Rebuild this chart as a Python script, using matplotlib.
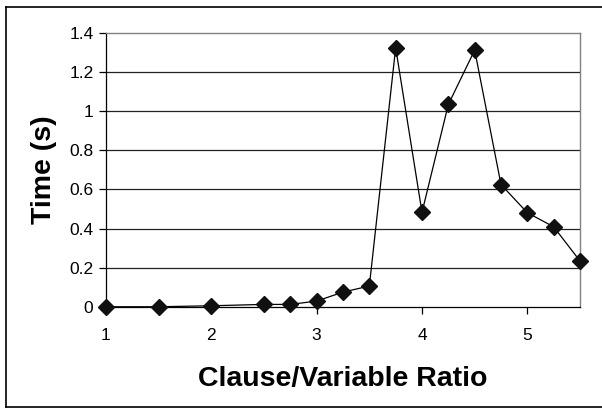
import matplotlib.pyplot as plt
from matplotlib.lines import Line2D

plt.rcParams['font.family'] = ['Liberation Sans', 'DejaVu Sans']

# clause/variable ratio vs solve time
ratios = [1, 1.5, 2, 2.5, 2.75, 3, 3.25, 3.5, 3.75, 4, 4.25, 4.5, 4.75, 5, 5.25, 5.5]
times = [0.0, 0.0, 0.005, 0.012, 0.012, 0.029, 0.075, 0.106, 1.325, 0.483,
         1.035, 1.313, 0.625, 0.481, 0.409, 0.234]
x_ticks = [1, 2, 3, 4, 5]
y_ticks = [0, 0.2, 0.4, 0.6, 0.8, 1, 1.2, 1.4]
y_labels = ['0', '0.2', '0.4', '0.6', '0.8', '1', '1.2', '1.4']

fig = plt.figure(figsize=(6.02, 4.09), dpi=100)
ax = fig.add_axes([0.176, 0.250, 0.7875, 0.669])

# gridlines
for y in y_ticks[1:-1]:
    ax.axhline(y, color='#222222', lw=0.9, zorder=1)

ax.plot(ratios, times, color='black', lw=0.9, marker='D', markersize=8.5,
        markerfacecolor='#111111', markeredgecolor='#111111', zorder=3, clip_on=False)

ax.set_xlim(1, 5.5)
ax.set_ylim(0, 1.4)
ax.set_xticks(x_ticks)
ax.set_yticks(y_ticks)
ax.set_yticklabels(y_labels)
ax.tick_params(axis='both', labelsize=12.5, direction='out', length=5, width=0.9, colors='black')
ax.tick_params(axis='x', pad=10)
ax.tick_params(axis='y', pad=4)

ax.spines['left'].set_color('black')
ax.spines['bottom'].set_color('black')
ax.spines['left'].set_linewidth(0.9)
ax.spines['bottom'].set_linewidth(0.9)
ax.spines['top'].set_color('#808080')
ax.spines['right'].set_color('#808080')
ax.spines['top'].set_linewidth(1.0)
ax.spines['right'].set_linewidth(1.0)

ax.set_xlabel('Clause/Variable Ratio', fontsize=20.5, fontweight='bold', labelpad=17)
ax.set_ylabel('Time (s)', fontsize=20.5, fontweight='bold', labelpad=9)

# outer chart border
W, H = 602, 409
for xs, ys in [([6 / W, 1.0], [1 - 6.5 / H] * 2),
               ([6 / W, 1.0], [1 - 406.5 / H] * 2),
               ([6 / W] * 2, [1 - 6.5 / H, 1 - 406.5 / H])]:
    fig.add_artist(Line2D(xs, ys, color='black', lw=1.2, transform=fig.transFigure))

fig.savefig('out.png', dpi=100)
